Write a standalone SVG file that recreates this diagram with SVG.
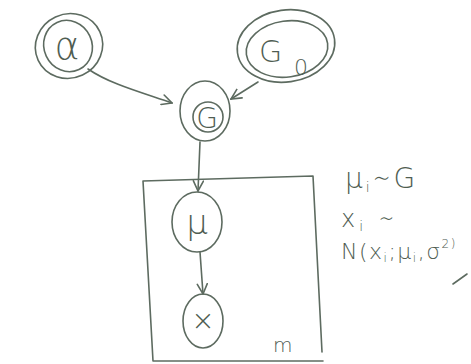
<svg xmlns="http://www.w3.org/2000/svg" width="471" height="364" viewBox="0 0 471 364">
<style>
.s{fill:none;stroke:#5d6b60;stroke-width:1.6;stroke-linecap:round;stroke-linejoin:round}
.t{font-family:"DejaVu Sans","Liberation Sans",sans-serif;fill:#4f5d52;font-weight:300}
</style>
<defs>
<marker id="ah" viewBox="0 0 12 12" refX="11" refY="6" markerWidth="12" markerHeight="12" markerUnits="userSpaceOnUse" orient="auto">
<path d="M1,1 L11,6 L1,11" fill="none" stroke="#5d6b60" stroke-width="1.6" stroke-linecap="round"/>
</marker>
</defs>
<rect width="471" height="364" fill="#ffffff"/>
<g id="plate">
<path class="s" d="M143,181 L313,176 L322,352 M143,181 L153,361 L323,361"/>
<text class="t" x="273" y="352" font-size="20">m</text>
</g>
<g id="connectors">
<path class="s" d="M88,69 C110,84 140,92 172,103" marker-end="url(#ah)"/>
<path class="s" d="M258,82 L231,99" marker-end="url(#ah)"/>
<path class="s" d="M200,142 L198,191" marker-end="url(#ah)"/>
<path class="s" d="M200,252 L203,294" marker-end="url(#ah)"/>
</g>
<g id="alpha">
<ellipse class="s" cx="69" cy="46" rx="34" ry="32" transform="rotate(-25 69 46)"/>
<ellipse class="s" cx="68" cy="46" rx="24" ry="26" transform="rotate(-25 68 46)"/>
<text class="t" x="67" y="59" font-size="38" text-anchor="middle">α</text>
</g>
<g id="G0">
<ellipse class="s" cx="286" cy="46" rx="49" ry="36" transform="rotate(-8 286 46)"/>
<ellipse class="s" cx="287" cy="49" rx="41" ry="28" transform="rotate(-8 287 49)"/>
<text class="t" x="259" y="62" font-size="30">G</text>
<text class="t" x="294" y="75" font-size="22">0</text>
</g>
<g id="G">
<ellipse class="s" cx="205" cy="111" rx="25" ry="30"/>
<ellipse class="s" cx="208" cy="117" rx="15" ry="15"/>
<text class="t" x="207" y="128" font-size="28" text-anchor="middle">G</text>
</g>
<g id="mu">
<ellipse class="s" cx="197" cy="222" rx="25" ry="30"/>
<text class="t" x="197" y="234" font-size="34" text-anchor="middle">μ</text>
</g>
<g id="x">
<ellipse class="s" cx="203" cy="321" rx="20" ry="27"/>
<text class="t" x="203" y="330" font-size="28" text-anchor="middle">×</text>
</g>
<g id="notes">
<text class="t" x="345" y="188" font-size="28" letter-spacing="3">μ<tspan font-size="14" dy="4">i</tspan><tspan dy="-4">∼G</tspan></text>
<text class="t" x="341" y="227" font-size="24" letter-spacing="4">x<tspan font-size="14" dy="4">i</tspan><tspan dy="-4"> ∼</tspan></text>
<text class="t" x="341" y="259" font-size="22" letter-spacing="1.5">N(x<tspan font-size="12" dy="3">i</tspan><tspan dy="-3">;μ</tspan><tspan font-size="12" dy="3">i</tspan><tspan dy="-3">,σ</tspan><tspan font-size="12" dy="-11">2)</tspan></text>
<path class="s" d="M467,274 L453,284"/>
</g>
</svg>
